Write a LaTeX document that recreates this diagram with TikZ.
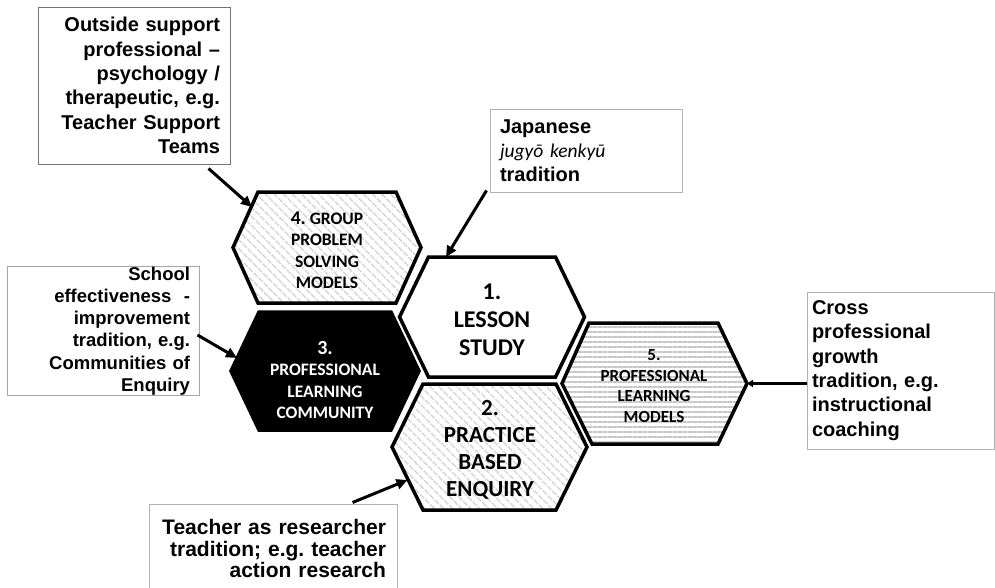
\documentclass[tikz,border=0pt]{standalone}
\usepackage{fontspec}
\setmainfont{Liberation Sans}
\newfontfamily\hexfont{Carlito}
\usetikzlibrary{arrows.meta,patterns.meta,calc}
\frenchspacing
\begin{document}
\frenchspacing
\begin{tikzpicture}[x=1pt,y=-1pt,
  hexline/.style={draw=black,line width=3.5pt,line join=miter},
  diagfill/.style={preaction={fill=white},
    preaction={pattern={Lines[angle=-45,distance=6.5pt,line width=1.8pt]},pattern color=black!17}},
  horfill/.style={preaction={fill=white},
    preaction={pattern={Lines[angle=0,distance=5pt,line width=1.6pt]},pattern color=black!22}},
  hextext/.style={align=center,inner sep=0pt},
  tbox/.style={draw=#1,line width=1pt,inner ysep=0pt},
  boxfont/.style n args={2}{font=\bfseries\fontsize{#1}{#2}\selectfont},
  callout/.style={line width=3pt,-{Triangle[length=11pt,width=10pt]}},
]
\clip (0,0) rectangle (995,587);
\fill[white] (0,0) rectangle (995,587);

% hexagons
\path[hexline,diagfill] (233,247.5) -- (258,192) -- (396,192) -- (421,247.5) -- (396,303) -- (258,303) -- cycle;
\path[hexline,fill=black] (231,371) -- (259,312) -- (391,312) -- (419,371) -- (391,430) -- (259,430) -- cycle;
\path[hexline,fill=white] (399.5,317) -- (428.5,257) -- (555.5,257) -- (584.5,317) -- (555.5,377) -- (428.5,377) -- cycle;
\path[hexline,diagfill] (392,447) -- (423,384) -- (556,384) -- (587,447) -- (556,510) -- (423,510) -- cycle;
\path[hexline,horfill] (562,383.5) -- (589,323) -- (718,323) -- (747,383.5) -- (718,444) -- (592,444) -- cycle;

% hexagon labels
\node[hextext,font=\hexfont\bfseries\fontsize{24}{28}\selectfont] (h1) at (492,320) {1.\\LESSON\\STUDY};
\node[hextext,font=\hexfont\bfseries\fontsize{23}{27}\selectfont] (h2) at (490,450) {2.\\PRACTICE\\BASED\\ENQUIRY};
\node[hextext,font=\hexfont\bfseries\fontsize{17.5}{21.3}\selectfont,text=white] (h3) at (325,380) {{\fontsize{20}{21.3}\selectfont 3.}\\PROFESSIONAL\\LEARNING\\COMMUNITY};
\node[hextext,font=\hexfont\bfseries\fontsize{17.5}{21.5}\selectfont] (h4) at (327,250) {{\fontsize{19.5}{21.5}\selectfont 4.} GROUP\\PROBLEM\\SOLVING\\MODELS};
\node[hextext,font=\hexfont\bfseries\fontsize{17}{20.7}\selectfont] (h5) at (654,386) {5.\\PROFESSIONAL\\LEARNING\\MODELS};

% text boxes
\node[tbox=black!55,boxfont={20}{24.4},inner xsep=10pt,text width=172pt,align=right,minimum height=157pt] (a) at (134,85.5)
  {Outside support\\professional –\\psychology /\\therapeutic, e.g.\\Teacher Support\\Teams};
\node[tbox=black!30,boxfont={20}{24},inner xsep=10pt,text width=172pt,align=left,minimum height=83pt] (b) at (586,150.5)
  {Japanese\\{\hexfont\mdseries\itshape\fontsize{19.5}{24}\selectfont jugyō kenkyū}\\tradition};
\node[tbox=black!35,boxfont={18.5}{22.3},inner xsep=9pt,text width=174pt,align=right,minimum height=128pt] (c) at (103,331)
  {School\\effectiveness\ \ -\\improvement\\tradition, e.g.\\Communities of\\Enquiry};
\node[tbox=black!30,boxfont={20}{24.4},inner xsep=5pt,text width=177pt,align=left,minimum height=157pt] (d) at (900.5,370.5)
  {Cross\\professional\\growth\\tradition, e.g.\\instructional\\coaching};
\node[tbox=black!30,boxfont={21}{21.5},inner xsep=11pt,text width=226pt,align=right,minimum height=89pt] (e) at (273,548.5)
  {Teacher as researcher\\tradition; e.g. teacher\\action research};

% connector end points on the hexagons
\coordinate (t4) at (252,207);
\coordinate (t1) at (446,257);
\coordinate (t3) at (237,358);
\coordinate (t2) at (407.5,480);
\coordinate (t5) at (747,383.5);
\coordinate (sa) at ([xshift=-22pt,yshift=-4pt]a.south east);
\coordinate (sb) at ([xshift=-3pt,yshift=2pt]b.south west);
\coordinate (sc) at ([xshift=-2pt,yshift=-4pt]c.east);
\coordinate (se) at ([xshift=-45pt,yshift=1pt]e.north east);
\coordinate (sd) at ([yshift=-13pt]d.west);

\draw[callout] (sa) -- (t4);
\draw[callout] (sb) -- (t1);
\draw[callout] (sc) -- (t3);
\draw[callout] (se) -- (t2);
\draw[line width=3pt,-{Triangle[length=6pt,width=7pt]}] (sd) -- (t5);
\end{tikzpicture}
\end{document}
